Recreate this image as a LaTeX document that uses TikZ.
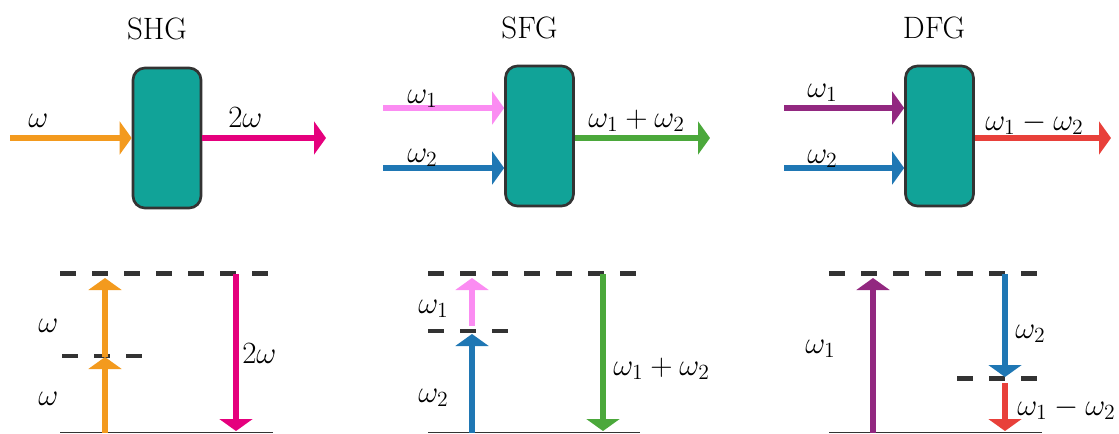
\RequirePackage{fix-cm}
\documentclass[tikz,border=0pt]{standalone}
\usetikzlibrary{arrows.meta}
\definecolor{cteal}{HTML}{11A398}
\definecolor{cedge}{HTML}{333333}
\definecolor{corange}{HTML}{F39A1E}
\definecolor{cmagenta}{HTML}{E5007D}
\definecolor{cpink}{HTML}{FB8CF2}
\definecolor{cblue}{HTML}{1F77B4}
\definecolor{cgreen}{HTML}{4BA83B}
\definecolor{cpurple}{HTML}{922880}
\definecolor{cred}{HTML}{E8403A}
\begin{document}
\begin{tikzpicture}[x=0.025cm,y=-0.025cm,
  every node/.style={font=\fontsize{22}{26}\selectfont},
  crystal/.style={draw=cedge,line width=1.9pt,fill=cteal,rounded corners=0.3cm,
    minimum width=1.7cm,minimum height=3.5cm,inner sep=0pt},
  beam/.style={line width=3.6pt,-{Triangle[length=0.3cm,width=0.82cm]}},
  lvl/.style={cedge,line width=3.5pt,dash pattern=on 0.4cm off 0.4cm},
  gnd/.style={cedge,line width=1.1pt},
  lab/.style={anchor=base west,inner sep=0pt},
  ttl/.style={anchor=base,inner sep=0pt}]
\useasboundingbox (0,0) rectangle (1119,434);

% titles
\node[ttl] (tshg) at (157,39) {SHG};
\node[ttl] (tsfg) at (529.5,38) {SFG};
\node[ttl] (tdfg) at (934,38) {DFG};

% crystals
\node[crystal] (bshg) at (167,138) {};
\node[crystal] (bsfg) at (539.5,136) {};
\node[crystal] (bdfg) at (939.5,136) {};

% SHG beams
\coordinate (shgin) at (10,138);
\coordinate (shgout) at (326,138);
\draw[beam,corange] (shgin) -- (bshg.west |- shgin);
\draw[beam,cmagenta] (bshg.east |- shgout) -- (shgout);
\node[lab] (lshgin) at (28,127) {$\omega$};
\node[lab] (lshgout) at (228,127) {$2\omega$};

% SFG beams
\coordinate (sfgin1) at (383,108);
\coordinate (sfgin2) at (383,168);
\coordinate (sfgout) at (710,138);
\draw[beam,cpink] (sfgin1) -- (bsfg.west |- sfgin1);
\draw[beam,cblue] (sfgin2) -- (bsfg.west |- sfgin2);
\draw[beam,cgreen] (bsfg.east |- sfgout) -- (sfgout);
\node[lab] (lsfgin1) at (407,103) {$\omega_1$};
\node[lab] (lsfgin2) at (407,162) {$\omega_2$};
\node[lab] (lsfgout) at (588,127) {$\omega_1+\omega_2$};

% DFG beams
\coordinate (dfgin1) at (784,108);
\coordinate (dfgin2) at (784,168);
\coordinate (dfgout) at (1111,138);
\draw[beam,cpurple] (dfgin1) -- (bdfg.west |- dfgin1);
\draw[beam,cblue] (dfgin2) -- (bdfg.west |- dfgin2);
\draw[beam,cred] (bdfg.east |- dfgout) -- (dfgout);
\node[lab] (ldfgin1) at (807,97) {$\omega_1$};
\node[lab] (ldfgin2) at (807,163) {$\omega_2$};
\node[lab] (ldfgout) at (985,130) {$\omega_1-\omega_2$};

% SHG levels
\coordinate (shgg1) at (60,432.5); \coordinate (shgg2) at (273,432.5);
\coordinate (shgt1) at (60,273.5); \coordinate (shgt2) at (272,273.5);
\coordinate (shgm1) at (62,356); \coordinate (shgm2) at (143,356);
\draw[gnd] (shgg1) -- (shgg2);
\draw[lvl] (shgt1) -- (shgt2);
\draw[lvl] (shgm1) -- (shgm2);
\coordinate (shga0) at (105,433); \coordinate (shga1) at (105,357);
\coordinate (shga2) at (105,278);
\draw[beam,corange] (shga0) -- (shga1);
\draw[beam,corange] (shga1) -- (shga2);
\coordinate (shgb0) at (236,274); \coordinate (shgb1) at (236,431);
\draw[beam,cmagenta] (shgb0) -- (shgb1);
\node[lab] (lshg1) at (38,332) {$\omega$};
\node[lab] (lshg2) at (38,405) {$\omega$};
\node[lab] (lshg3) at (242,363) {$2\omega$};

% SFG levels
\coordinate (sfgg1) at (428,432.5); \coordinate (sfgg2) at (640,432.5);
\coordinate (sfgt1) at (428,273.5); \coordinate (sfgt2) at (639,273.5);
\coordinate (sfgm1) at (428,331); \coordinate (sfgm2) at (510,331);
\draw[gnd] (sfgg1) -- (sfgg2);
\draw[lvl] (sfgt1) -- (sfgt2);
\draw[lvl] (sfgm1) -- (sfgm2);
\coordinate (sfga0) at (472,433); \coordinate (sfga1) at (472,334);
\coordinate (sfga2) at (472,326); \coordinate (sfga3) at (472,278);
\draw[beam,cblue] (sfga0) -- (sfga1);
\draw[beam,cpink] (sfga2) -- (sfga3);
\coordinate (sfgb0) at (603,274); \coordinate (sfgb1) at (603,431);
\draw[beam,cgreen] (sfgb0) -- (sfgb1);
\node[lab] (lsfg1) at (418,313) {$\omega_1$};
\node[lab] (lsfg2) at (418,402) {$\omega_2$};
\node[lab] (lsfg3) at (613,375) {$\omega_1+\omega_2$};

% DFG levels
\coordinate (dfgg1) at (829,432.5); \coordinate (dfgg2) at (1042,432.5);
\coordinate (dfgt1) at (829,273.5); \coordinate (dfgt2) at (1039,273.5);
\coordinate (dfgm1) at (957,378.5); \coordinate (dfgm2) at (1039,378.5);
\draw[gnd] (dfgg1) -- (dfgg2);
\draw[lvl] (dfgt1) -- (dfgt2);
\draw[lvl] (dfgm1) -- (dfgm2);
\coordinate (dfga0) at (873,433); \coordinate (dfga1) at (873,278);
\draw[beam,cpurple] (dfga0) -- (dfga1);
\coordinate (dfgb0) at (1005,274); \coordinate (dfgb1) at (1005,377);
\coordinate (dfgb2) at (1005,383); \coordinate (dfgb3) at (1005,431);
\draw[beam,cblue] (dfgb0) -- (dfgb1);
\draw[beam,cred] (dfgb2) -- (dfgb3);
\node[lab] (ldfg1) at (805,353) {$\omega_1$};
\node[lab] (ldfg2) at (1015,338) {$\omega_2$};
\node[lab] (ldfg3) at (1017,415) {$\omega_1-\omega_2$};
\end{tikzpicture}
\end{document}
